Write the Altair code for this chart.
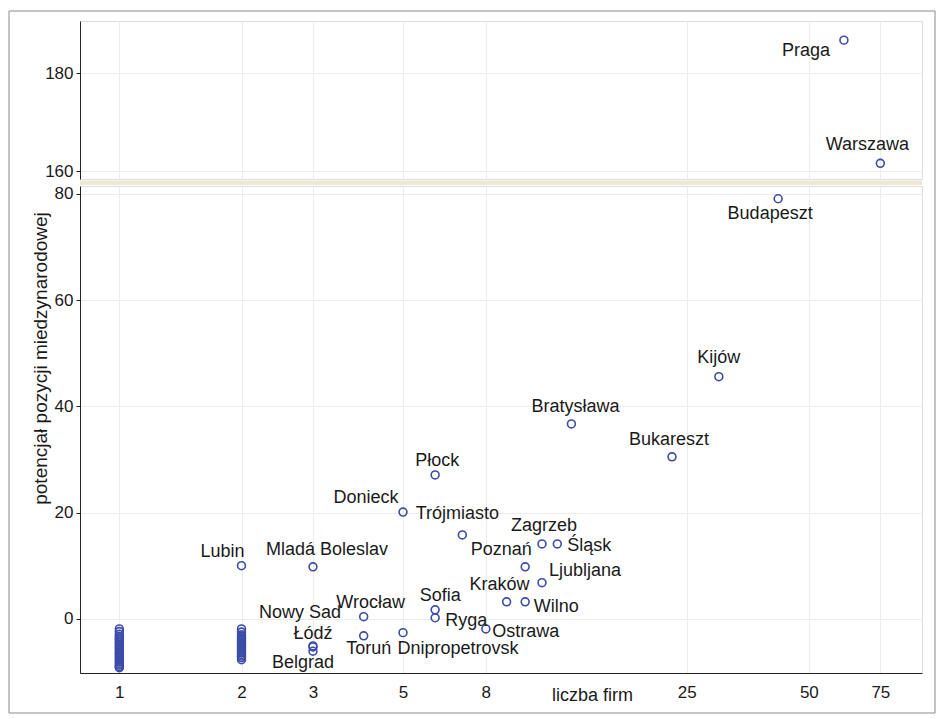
import altair as alt
import pandas as pd

# ---- data ----
cities = ["Praga", "Warszawa", "Budapeszt", "Kijów", "Bratysława", "Bukareszt",
          "Płock", "Donieck", "Trójmiasto", "Zagrzeb", "Śląsk", "Poznań",
          "Ljubljana", "Kraków", "Wilno", "Sofia", "Ryga", "Ostrawa", "Wrocław",
          "Toruń", "Dnipropetrovsk", "Lubin", "Mladá Boleslav", "Nowy Sad",
          "Łódź", "Belgrad"]
firms = [61, 75, 42, 30, 13, 23, 6, 5, 7, 11, 12, 10, 11, 9, 10, 6, 6, 8, 4, 4,
         5, 2, 3, 3, 3, 3]
potential = [186.7, 161.6, 79.1, 45.6, 36.7, 30.5, 27.1, 20.1, 15.8, 14.1, 14.1,
             9.8, 6.8, 3.2, 3.2, 1.7, 0.2, -1.9, 0.4, -3.2, -2.6, 10.0, 9.8,
             -5.1, -5.3, -6.1]
# label placement (pixel offsets of label centre from its point)
label_dx = [-38, -13, -8, 0, 4, -3, 2, -37, -5, 2, 32, -24, 43, -7, 31, 5, 31,
            40, 7, 5, 55, -19, 14, -13, 0, -10]
label_dy = [11, -18, 15, -19, -17, -17, -14, -14, -21, -18, 2, -17, -12, -17, 5,
            -14, 3, 3, -14, 13, 16, -14, -17, -33, -13, 12]

# unlabelled cities with 1 and 2 firms (dense, overlapping columns)
one_firm_potential = [-1.9, -2.4, -2.9, -3.3, -3.6, -3.9, -4.2, -4.5, -4.8,
                      -5.1, -5.4, -5.7, -6.0, -6.3, -6.6, -6.9, -7.2, -7.5,
                      -7.8, -8.1, -8.4, -8.7, -9.0, -9.2]
two_firm_potential = [-1.9, -2.5, -3.0, -3.4, -3.7, -4.0, -4.3, -4.6, -4.9,
                      -5.2, -5.5, -5.8, -6.1, -6.4, -6.7, -7.0, -7.3, -7.7]

x_ticks = [1, 2, 3, 5, 8, 25, 50, 75]
top_ticks = [160, 180]
bottom_ticks = [0, 20, 40, 60, 80]

labelled = pd.DataFrame({"city": cities, "firms": firms, "potential": potential})
unlabelled = pd.DataFrame({
    "city": [""] * (len(one_firm_potential) + len(two_firm_potential)),
    "firms": [1] * len(one_firm_potential) + [2] * len(two_firm_potential),
    "potential": one_firm_potential + two_firm_potential,
})
points = pd.concat([labelled, unlabelled], ignore_index=True)

W = 842
H_TOP = 158
H_BOT = 487
FONT = "Liberation Sans"
PT_COLOR = "#3b4ca8"
TXT = "#1a1a1a"
GRID = "#ececec"

x_scale = alt.Scale(type="log", domain=[0.8, 95], nice=False)


def label_layers(data, y_scale):
    layers = []
    present = set(data["city"])
    for name, dx, dy in zip(cities, label_dx, label_dy):
        if name not in present:
            continue
        layers.append(
            alt.Chart(data).transform_filter(alt.datum.city == name).mark_text(
                font=FONT, fontSize=18, color=TXT, align="center",
                baseline="middle", dx=dx, dy=dy
            ).encode(
                x=alt.X("firms:Q", scale=x_scale),
                y=alt.Y("potential:Q", scale=y_scale),
                text="city:N",
            )
        )
    return layers


def point_mark():
    return dict(shape="circle", filled=False, size=62, strokeWidth=1.6,
                color=PT_COLOR, opacity=1)


# ---- top panel ----
top_data = points[points["potential"] > 100]
top_y_scale = alt.Scale(domain=[158.4, 190.6], nice=False, zero=False)
top_x_axis = alt.Axis(values=x_ticks, labels=False, ticks=False, domain=False,
                      title=None, grid=True, gridColor=GRID)
top_y_axis = alt.Axis(values=top_ticks, title=None, tickSize=4, labelPadding=3,
                      labelFont=FONT, labelFontSize=17, labelColor=TXT,
                      tickColor="#222", domainColor="#222", grid=True,
                      gridColor=GRID)

top_pts = alt.Chart(top_data).mark_point(**point_mark()).encode(
    x=alt.X("firms:Q", scale=x_scale, axis=top_x_axis),
    y=alt.Y("potential:Q", scale=top_y_scale, axis=top_y_axis),
)
band = alt.Chart(pd.DataFrame({"a": [0]})).mark_rect(
    color="#ece8d5", clip=False
).encode(
    x=alt.value(0), x2=alt.value(W), y=alt.value(H_TOP + 1.5),
    y2=alt.value(H_TOP + 6)
)
top = alt.layer(band, top_pts, *label_layers(top_data, top_y_scale)).properties(
    width=W, height=H_TOP
)

# ---- bottom panel ----
bot_data = points[points["potential"] < 100]
bot_y_scale = alt.Scale(domain=[-10.2, 81.5], nice=False, zero=False)
bot_x_axis = alt.Axis(values=x_ticks, title="liczba firm", tickSize=0,
                      labelPadding=11, labelFont=FONT, labelFontSize=17,
                      labelColor=TXT, domainColor="#222", grid=True,
                      gridColor=GRID, titleFont=FONT, titleFontSize=18,
                      titleFontWeight="normal", titleColor=TXT, titleX=512,
                      titleY=27, titleBaseline="alphabetic", titleAlign="center",
                      labelFlush=False)
bot_y_axis = alt.Axis(values=bottom_ticks, title="potencjał pozycji miedzynarodowej",
                      tickSize=4, labelPadding=3, labelFont=FONT, labelFontSize=17,
                      labelColor=TXT, tickColor="#222", domainColor="#222",
                      grid=True, gridColor=GRID, titleFont=FONT,
                      titleFontSize=19, titleFontWeight="normal", titleColor=TXT,
                      titleAngle=-90, titleX=-40, titleY=172, titleAlign="center",
                      titleBaseline="middle")

bot_pts = alt.Chart(bot_data).mark_point(**point_mark()).encode(
    x=alt.X("firms:Q", scale=x_scale, axis=bot_x_axis),
    y=alt.Y("potential:Q", scale=bot_y_scale, axis=bot_y_axis),
)
frame = alt.Chart(pd.DataFrame({"a": [0]})).mark_rect(
    filled=False, stroke="#8a8a8a", strokeWidth=1, clip=False
).encode(
    x=alt.value(-71), x2=alt.value(W + 13), y=alt.value(-175), y2=alt.value(H_BOT + 40)
)
bottom = alt.layer(frame, bot_pts, *label_layers(bot_data, bot_y_scale)).properties(
    width=W, height=H_BOT
)

chart = alt.vconcat(top, bottom, spacing=7, bounds="flush").properties(
    padding={"left": 0, "top": 2, "right": 0, "bottom": 0}
).configure_view(
    stroke="#222", strokeWidth=1.2
).configure(background="white")

chart.save("out.html", embed_options={"renderer": "svg", "actions": False})
